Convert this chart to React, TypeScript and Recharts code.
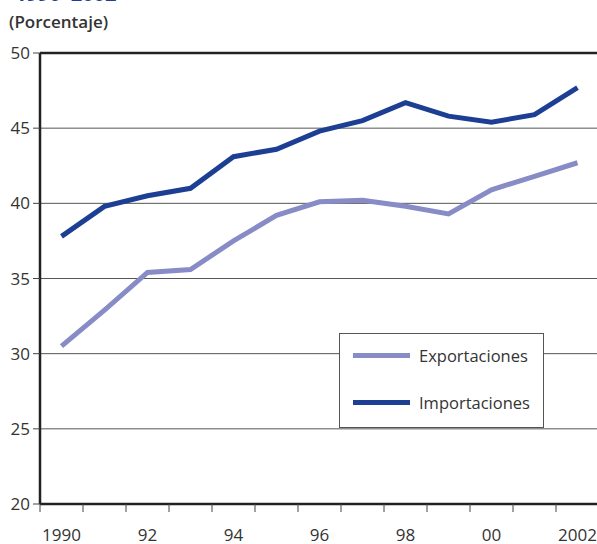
import React from "react";
import { LineChart, Line, XAxis, YAxis, CartesianGrid, ReferenceLine } from "recharts";

const years = [1990, 1991, 1992, 1993, 1994, 1995, 1996, 1997, 1998, 1999, 2000, 2001, 2002];
const exportaciones = [30.5, 32.9, 35.4, 35.6, 37.5, 39.2, 40.1, 40.2, 39.8, 39.3, 40.9, 41.8, 42.7];
const importaciones = [37.8, 39.8, 40.5, 41.0, 43.1, 43.6, 44.8, 45.5, 46.7, 45.8, 45.4, 45.9, 47.7];
const yTicks = [20, 25, 30, 35, 40, 45, 50];
const labelYears = [1990, 1992, 1994, 1996, 1998, 2000, 2002];
const labelText: Record<number, string> = { 1990: "1990", 1992: "92", 1994: "94", 1996: "96", 1998: "98", 2000: "00", 2002: "2002" };
const boundaries = [1989.5, 1990.5, 1991.5, 1992.5, 1993.5, 1994.5, 1995.5, 1996.5, 1997.5, 1998.5, 1999.5, 2000.5, 2001.5, 2002.5];
const seriesNames = ["Exportaciones", "Importaciones"];
const colors = ["#888cc6", "#1c3f94"];

const data = years.map((y, i) => ({ year: y, exp: exportaciones[i], imp: importaciones[i] }));
const xTicks = [...boundaries, ...labelYears].sort((a, b) => a - b);

const FONT = "'Open Sans', 'Noto Sans', sans-serif";

const XTick = (props: any) => {
  const { x, y, payload } = props;
  const v = payload.value;
  if (v % 1 !== 0) {
    return <line x1={x} x2={x} y1={y - 8} y2={y} stroke="#444" strokeWidth={1} />;
  }
  return (
    <text x={x} y={y + 22} textAnchor="middle" dominantBaseline="central" fill="#333" fontSize={17} fontFamily={FONT}>
      {labelText[v]}
    </text>
  );
};

export default function App() {
  return (
    <div style={{ position: "absolute", left: 0, top: 0, width: 597, height: 544, overflow: "hidden", background: "#fff", fontFamily: FONT }}>
      <div style={{ position: "absolute", left: 15, top: -18, fontSize: 20, fontWeight: 700, color: "#1c3f94", lineHeight: "24px", whiteSpace: "nowrap" }}>
        1990–2002
      </div>
      <div style={{ position: "absolute", left: 9, top: 11, fontSize: 17, fontWeight: 600, color: "#333", lineHeight: "22px", whiteSpace: "nowrap" }}>
        (Porcentaje)
      </div>
      <div style={{ position: "absolute", left: 0, top: 0 }}>
        <LineChart width={610} height={544} data={data} margin={{ top: 53, right: 11, bottom: 0, left: 0 }}>
          <CartesianGrid horizontal vertical={false} stroke="#555" strokeWidth={1} />
          <XAxis
            dataKey="year"
            type="number"
            domain={[1989.5, 2002.5]}
            ticks={xTicks}
            interval={0}
            tick={<XTick />}
            tickLine={false}
            axisLine={{ stroke: "#222", strokeWidth: 2.5 }}
            height={40}
            allowDataOverflow
          />
          <YAxis
            type="number"
            domain={[20, 50]}
            ticks={yTicks}
            interval={0}
            width={40}
            tickSize={7}
            tickMargin={3}
            tickLine={{ stroke: "#444" }}
            axisLine={{ stroke: "#222", strokeWidth: 2.5 }}
            tick={{ fill: "#333", fontSize: 17, fontFamily: FONT }}
          />
          <ReferenceLine y={50} stroke="#222" strokeWidth={2.5} />
          <Line dataKey="exp" name={seriesNames[0]} type="linear" stroke={colors[0]} strokeWidth={5} dot={false} isAnimationActive={false} />
          <Line dataKey="imp" name={seriesNames[1]} type="linear" stroke={colors[1]} strokeWidth={5} dot={false} isAnimationActive={false} />
        </LineChart>
      </div>
      <div style={{ position: "absolute", left: 339, top: 333, width: 203, height: 93, border: "1px solid #555", background: "#fff" }}>
        {seriesNames.map((n, i) => (
          <div key={n} style={{ position: "absolute", left: 13, top: i === 0 ? 9 : 56, height: 24, display: "flex", alignItems: "center" }}>
            <div style={{ width: 57, height: 5, background: colors[i] }} />
            <span style={{ marginLeft: 9, fontSize: 16.5, color: "#333", whiteSpace: "nowrap" }}>{n}</span>
          </div>
        ))}
      </div>
    </div>
  );
}
